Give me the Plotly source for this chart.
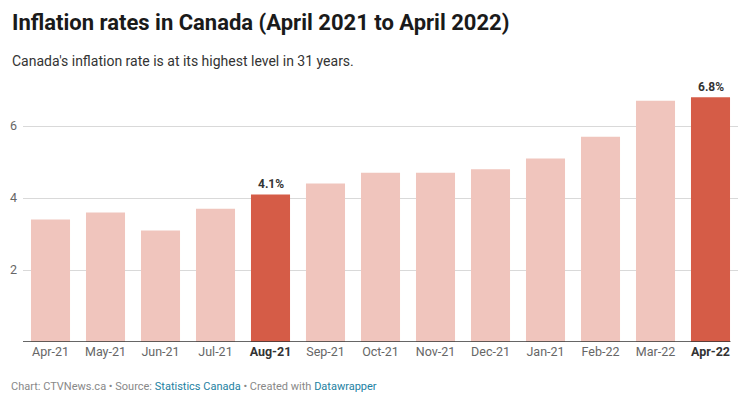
import plotly.graph_objects as go

months = ["Apr-21", "May-21", "Jun-21", "Jul-21", "Aug-21", "Sep-21", "Oct-21",
          "Nov-21", "Dec-21", "Jan-21", "Feb-22", "Mar-22", "Apr-22"]
rates = [3.4, 3.6, 3.1, 3.7, 4.1, 4.4, 4.7, 4.7, 4.8, 5.1, 5.7, 6.7, 6.8]
highlighted = ["Aug-21", "Apr-22"]
y_ticks = [2, 4, 6]

LIGHT = "#f0c5bd"
DARK = "#d55c47"
FONT = "Roboto"

colors = [DARK if m in highlighted else LIGHT for m in months]
ticktext = [f"<b><span style='color:#333333'>{m}</span></b>" if m in highlighted else m
            for m in months]

fig = go.Figure()
fig.add_trace(go.Bar(x=months, y=rates, marker=dict(color=colors, line=dict(width=0)),
                     hoverinfo="skip"))

for m, r in zip(months, rates):
    if m in highlighted:
        fig.add_annotation(x=m, y=r, text=f"<b>{r:.1f}%</b>", showarrow=False,
                           yanchor="bottom", yshift=1,
                           font=dict(family=FONT, size=12, color="#333333"))

fig.add_shape(type="line", xref="paper", yref="y", x0=0, x1=0.9895, y0=0, y1=0,
              line=dict(color="#333333", width=1.5), layer="above")

fig.update_layout(
    width=741, height=399,
    margin=dict(l=23, r=3, t=90, b=57),
    paper_bgcolor="white", plot_bgcolor="white",
    bargap=0.29,
    showlegend=False,
    font=dict(family=FONT, size=12, color="#666666"),
    xaxis=dict(tickmode="array", tickvals=months, ticktext=ticktext,
               tickfont=dict(family=FONT, size=12.5, color="#666666"),
               showgrid=False, zeroline=False, showline=False, ticks="",
               fixedrange=True),
    yaxis=dict(range=[0, 7], tickvals=y_ticks, ticktext=[str(t) for t in y_ticks],
               showgrid=True, gridcolor="#d9d9d9", gridwidth=1,
               zeroline=False, showline=False, ticks="",
               ticklabelstandoff=5,
               tickfont=dict(family=FONT, size=12.5, color="#666666"),
               fixedrange=True),
)

fig.add_annotation(xref="paper", yref="paper", x=-13/715, y=1 + 53/252,
                   xanchor="left", yanchor="bottom", showarrow=False,
                   text="<b>Inflation rates in Canada (April 2021 to April 2022)</b>",
                   font=dict(family=FONT, size=22, color="#1a1a1a"))
fig.add_annotation(xref="paper", yref="paper", x=-13/715, y=1 + 29/252,
                   xanchor="left", yanchor="middle", showarrow=False,
                   text="Canada's inflation rate is at its highest level in 31 years.",
                   font=dict(family=FONT, size=14, color="#333333"))
fig.add_annotation(xref="paper", yref="paper", x=-14/715, y=-44/252,
                   xanchor="left", yanchor="middle", showarrow=False,
                   text=("Chart: CTVNews.ca \u2022 Source: <span style='color:#1d81a2'>Statistics Canada</span>"
                         " \u2022 Created with <span style='color:#1d81a2'>Datawrapper</span>"),
                   font=dict(family=FONT, size=11, color="#888888"))

fig.write_html("out.html", config={"displayModeBar": False},
               post_script="document.body.style.margin='0';document.body.style.overflow='hidden';")
